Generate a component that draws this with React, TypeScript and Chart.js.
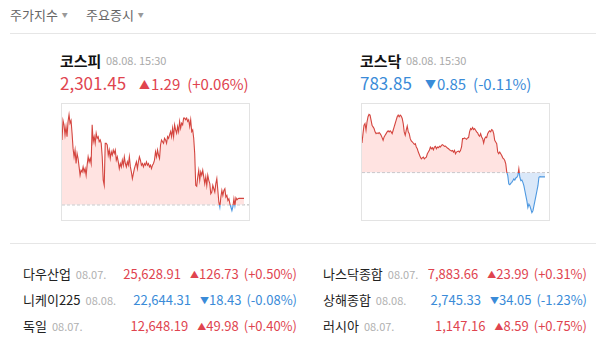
import React, { useEffect, useRef } from "react";
import { Chart, registerables } from "chart.js";

Chart.register(...registerables);

// ---------- data ----------
const KOSPI_PREV_CLOSE = 2300.16;
const KOSPI_VALUES = [
  2313.03, 2316.89, 2316.03, 2314.03, 2315.69, 2313.69, 2316.69, 2318.03, 2316.36, 2316.89,
  2314.36, 2311.36, 2309.69, 2311.03, 2308.36, 2310.36, 2309.36, 2307.69, 2306.03, 2307.03,
  2306.69, 2307.69, 2306.69, 2307.36, 2306.03, 2308.03, 2309.69, 2308.69, 2309.36, 2308.36,
  2316.03, 2312.69, 2313.69, 2312.36, 2314.36, 2313.36, 2313.69, 2312.69, 2313.03, 2312.36,
  2309.69, 2305.03, 2304.03, 2312.36, 2312.36, 2312.03, 2310.03, 2311.03, 2309.36, 2310.69,
  2310.03, 2311.03, 2310.36, 2311.03, 2309.03, 2309.69, 2308.69, 2307.36, 2308.36, 2307.69,
  2309.03, 2308.03, 2309.69, 2308.36, 2307.69, 2308.69, 2308.03, 2309.69, 2307.69, 2306.69,
  2305.36, 2306.36, 2307.36, 2308.03, 2308.69, 2307.36, 2308.69, 2309.69, 2309.03, 2308.03,
  2308.36, 2307.69, 2308.36, 2308.03, 2308.69, 2308.03, 2308.36, 2307.69, 2308.03, 2307.36,
  2308.03, 2308.36, 2309.03, 2310.69, 2309.69, 2311.03, 2310.03, 2309.36, 2312.03, 2313.03,
  2312.69, 2312.36, 2313.36, 2313.03, 2312.36, 2313.69, 2313.36, 2314.03, 2314.69, 2313.69,
  2315.36, 2313.69, 2316.03, 2315.03, 2314.36, 2315.69, 2314.69, 2316.69, 2315.36, 2316.36,
  2316.03, 2317.36, 2317.36, 2317.03, 2317.36, 2316.69, 2317.03, 2315.69, 2317.03, 2314.69,
  2315.03, 2313.36, 2310.36, 2304.03, 2303.83, 2305.69, 2307.03, 2305.03, 2306.69, 2306.03,
  2307.03, 2305.69, 2304.36, 2305.69, 2304.03, 2306.03, 2305.03, 2304.36, 2302.36, 2302.69,
  2304.03, 2303.36, 2302.69, 2304.36, 2305.36, 2303.03, 2300.69, 2299.69, 2301.69, 2303.03,
  2302.03, 2303.03, 2303.36, 2301.69, 2302.03, 2301.03, 2301.36, 2300.36, 2299.69, 2299.03,
  2299.83, 2301.36, 2300.03, 2301.56, 2301.16, 2301.36, 2301.45, 2301.45, 2301.45, 2301.45,
  2301.45, 2301.45,
];

const KOSDAQ_PREV_CLOSE = 784.7;
const KOSDAQ_VALUES = [
  790.57, 792.43, 794.1, 794.43, 793.1, 794.77, 795.77, 796.23, 796.1, 795.1,
  794.1, 793.77, 793.43, 792.77, 792.43, 792.57, 792.43, 792.63, 792.43, 792.1,
  791.63, 791.1, 791.77, 792.1, 792.43, 792.77, 792.97, 792.77, 792.97, 792.77,
  792.43, 793.1, 793.77, 794.43, 795.1, 795.77, 796.1, 795.77, 796.1, 795.9,
  795.43, 794.43, 792.77, 792.1, 793.1, 793.9, 792.77, 792.43, 791.43, 790.97,
  790.77, 790.57, 790.3, 790.43, 789.77, 789.43, 788.77, 788.3, 787.77, 787.43,
  787.63, 787.77, 787.43, 787.63, 787.77, 788.43, 788.77, 789.1, 789.77, 789.43,
  789.63, 789.23, 789.77, 789.9, 789.43, 789.77, 789.63, 789.9, 789.77, 790.1,
  790.23, 790.1, 789.9, 789.97, 789.77, 789.57, 789.43, 789.23, 789.1, 788.97,
  789.1, 788.77, 789.1, 788.43, 788.77, 788.9, 788.97, 788.77, 789.1, 789.77,
  791.43, 791.43, 791.57, 791.43, 791.3, 791.57, 791.63, 792.77, 793.43, 793.23,
  793.63, 793.23, 793.43, 793.1, 792.77, 792.57, 792.1, 791.9, 792.43, 791.77,
  791.43, 790.57, 791.43, 791.77, 791.63, 792.43, 792.77, 792.97, 792.77, 793.23,
  793.1, 792.43, 791.1, 790.77, 790.43, 788.77, 788.43, 788.77, 788.43, 788.1,
  787.63, 787.43, 787.1, 786.43, 784.77, 784.1, 782.43, 782.3, 782.57, 782.77,
  783.1, 783.43, 783.23, 783.63, 783.77, 784.1, 785.43, 783.77, 783.1, 783.23,
  782.77, 782.1, 781.1, 780.1, 779.1, 777.77, 778.43, 778.1, 777.43, 776.77,
  777.1, 778.1, 779.1, 780.1, 781.1, 782.1, 783.77, 783.9, 783.85, 783.85,
  783.85, 783.85, 783.85,
];

const TABS = ["주가지수", "주요증시"];

const MAIN_NAMES = ["코스피", "코스닥"];
const MAIN_TIMES = ["08.08. 15:30", "08.08. 15:30"];
const MAIN_PRICES = ["2,301.45", "783.85"];
const MAIN_CHANGES = ["1.29", "0.85"];
const MAIN_PCTS = ["(+0.06%)", "(-0.11%)"];
const MAIN_UP = [true, false];

const WORLD_NAMES = ["다우산업", "니케이225", "독일", "나스닥종합", "상해종합", "러시아"];
const WORLD_DATES = ["08.07.", "08.08.", "08.07.", "08.07.", "08.08.", "08.07."];
const WORLD_PRICES = ["25,628.91", "22,644.31", "12,648.19", "7,883.66", "2,745.33", "1,147.16"];
const WORLD_CHANGES = ["126.73", "18.43", "49.98", "23.99", "34.05", "8.59"];
const WORLD_PCTS = ["(+0.50%)", "(-0.08%)", "(+0.40%)", "(+0.31%)", "(-1.23%)", "(+0.75%)"];
const WORLD_UP = [true, false, true, true, false, true];

// ---------- styling ----------
const FONT = '"Noto Sans CJK KR", "Noto Sans", sans-serif';
const RED = "#e0444f";
const BLUE = "#3a8bd8";
const LINE_RED = "#d4453f";
const LINE_BLUE = "#4d98e0";
const FILL_RED = "rgba(255, 222, 220, 0.85)";
const FILL_BLUE = "rgba(214, 230, 248, 0.9)";
const X_SLOTS = 186;

type MiniProps = { values: number[]; base: number; min: number; max: number };

function MiniChart({ values, base, min, max }: MiniProps) {
  const ref = useRef<HTMLCanvasElement | null>(null);
  useEffect(() => {
    if (!ref.current) return;
    const points = values.map((v, i) => ({ x: i, y: v }));
    const splitColor = (top: string, bottom: string) => (ctx: any) => {
      const chart = ctx.chart;
      const area = chart.chartArea;
      if (!area) return top;
      const yb = chart.scales.y.getPixelForValue(base);
      let s = (yb - area.top) / (area.bottom - area.top);
      s = Math.max(0, Math.min(1, s));
      const g = chart.ctx.createLinearGradient(0, area.top, 0, area.bottom);
      g.addColorStop(0, top);
      g.addColorStop(s, top);
      g.addColorStop(s, bottom);
      g.addColorStop(1, bottom);
      return g;
    };
    const chart = new Chart(ref.current, {
      type: "line",
      data: {
        datasets: [
          {
            data: points,
            borderColor: splitColor(LINE_RED, LINE_BLUE) as any,
            borderWidth: 1.1,
            pointRadius: 0,
            tension: 0,
            fill: { target: { value: base }, above: FILL_RED, below: FILL_BLUE } as any,
          },
          {
            data: [
              { x: 0, y: base },
              { x: X_SLOTS, y: base },
            ],
            borderColor: "#b8b8b8",
            borderWidth: 1,
            borderDash: [3, 2],
            pointRadius: 0,
            fill: false,
          },
        ],
      },
      options: {
        animation: false,
        responsive: false,
        maintainAspectRatio: false,
        layout: { padding: 0 },
        plugins: { legend: { display: false }, tooltip: { enabled: false } },
        scales: {
          x: { type: "linear", min: 0, max: X_SLOTS, display: false },
          y: { min, max, display: false },
        },
      },
    });
    return () => chart.destroy();
  }, [values, base, min, max]);
  return <canvas ref={ref} width={187} height={116} style={{ display: "block", width: 187, height: 116 }} />;
}

const abs = (left: number, top: number, extra: React.CSSProperties = {}): React.CSSProperties => ({
  position: "absolute",
  left,
  top,
  whiteSpace: "nowrap",
  lineHeight: 1,
  ...extra,
});

function MainPanel({ idx, left, values, base, min, max }: { idx: number; left: number; values: number[]; base: number; min: number; max: number }) {
  const up = MAIN_UP[idx];
  const color = up ? RED : BLUE;
  return (
    <>
      <div style={abs(left, 53, { fontSize: 15, fontWeight: 700, color: "#111" })}>{MAIN_NAMES[idx]}</div>
      <div style={abs(left + 46, 55, { fontSize: 11, color: "#aaa" })}>{MAIN_TIMES[idx]}</div>
      <div style={abs(left, 74, { fontSize: 17, color })}>
        <span>{MAIN_PRICES[idx]}</span>
        <span style={{ marginLeft: 13, fontSize: 11, position: "relative", top: -1 }}>{up ? "▲" : "▼"}</span>
        <span style={{ fontSize: 15, marginLeft: 1 }}>{MAIN_CHANGES[idx]}</span>
        <span style={{ fontSize: 15, marginLeft: 7 }}>{MAIN_PCTS[idx]}</span>
      </div>
      <div style={{ position: "absolute", left: left + 1, top: 103, border: "1px solid #e3e3e3" }}>
        <MiniChart values={values} base={base} min={min} max={max} />
      </div>
    </>
  );
}

function WorldRow({ idx, nameLeft, right, top }: { idx: number; nameLeft: number; right: number; top: number }) {
  const up = WORLD_UP[idx];
  const color = up ? RED : BLUE;
  return (
    <>
      <div style={abs(nameLeft, top, { fontSize: 13, color: "#222" })}>
        <span>{WORLD_NAMES[idx]}</span>
        <span style={{ fontSize: 11, color: "#b0b0b0", marginLeft: 5 }}>{WORLD_DATES[idx]}</span>
      </div>
      <div style={{ ...abs(0, top, { fontSize: 13, color }), left: undefined, right: 596 - right }}>
        <span>{WORLD_PRICES[idx]}</span>
        <span style={{ marginLeft: 9, fontSize: 9, position: "relative", top: -1 }}>{up ? "▲" : "▼"}</span>
        <span>{WORLD_CHANGES[idx]}</span>
        <span style={{ marginLeft: 5 }}>{WORLD_PCTS[idx]}</span>
      </div>
    </>
  );
}

export default function App() {
  const rowsTop = [267, 293, 319];
  return (
    <div
      style={{
        position: "fixed",
        left: 0,
        top: 0,
        width: 596,
        height: 351,
        background: "#fff",
        fontFamily: FONT,
        overflow: "hidden",
      }}
    >
      <div style={abs(10, 8, { fontSize: 13, color: "#666" })}>
        {TABS[0]}
        <span style={{ fontSize: 6, color: "#999", marginLeft: 4, position: "relative", top: -3 }}>▼</span>
      </div>
      <div style={abs(86, 8, { fontSize: 13, color: "#666" })}>
        {TABS[1]}
        <span style={{ fontSize: 6, color: "#999", marginLeft: 4, position: "relative", top: -3 }}>▼</span>
      </div>
      <div style={{ position: "absolute", left: 10, right: 0, top: 33, height: 1, background: "#e6e6e6" }} />

      <MainPanel idx={0} left={60} values={KOSPI_VALUES} base={KOSPI_PREV_CLOSE} min={2297.16} max={2320.16} />
      <MainPanel idx={1} left={360} values={KOSDAQ_VALUES} base={KOSDAQ_PREV_CLOSE} min={775.3} max={798.3} />

      <div style={{ position: "absolute", left: 10, right: 0, top: 243, height: 1, background: "#e6e6e6" }} />

      {rowsTop.map((t, i) => (
        <WorldRow key={"l" + i} idx={i} nameLeft={23} right={297} top={t} />
      ))}
      {rowsTop.map((t, i) => (
        <WorldRow key={"r" + i} idx={i + 3} nameLeft={323} right={587} top={t} />
      ))}
    </div>
  );
}
